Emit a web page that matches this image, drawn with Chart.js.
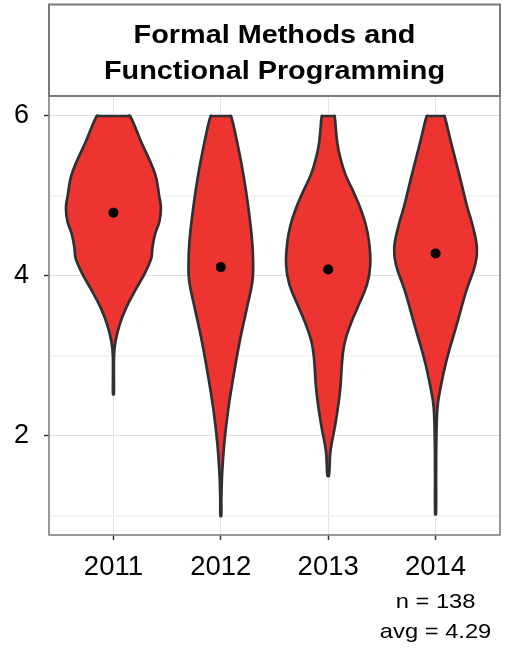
<!DOCTYPE html>
<html>
<head>
<meta charset="utf-8">
<script src="https://cdn.jsdelivr.net/npm/chart.js@4"></script>
<style>
  html, body { margin: 0; padding: 0; background: #ffffff; }
  #wrap { width: 505px; height: 652px; position: relative; }
</style>
</head>
<body>
<div id="wrap"><canvas id="c"></canvas></div>
<script>
// ---- data ----
const titleLines = ['Formal Methods and', 'Functional Programming'];
const years = ['2011', '2012', '2013', '2014'];
const yTickLabels = [2, 4, 6];

// violin outlines: rating level and half-width (share of one category slot)
const levels2011 = [6, 5.68, 5.27, 5.0, 4.85, 4.68, 4.52, 4.35, 4.22, 4.02, 3.81, 3.6, 3.39, 3.18, 3.02, 2.8, 2.52];
const widths2011 = [0.155, 0.257, 0.389, 0.426, 0.442, 0.428, 0.387, 0.363, 0.352, 0.287, 0.199, 0.118, 0.058, 0.019, 0.006, 0.004, 0.004];

const levels2012 = [6, 5.68, 5.27, 4.85, 4.43, 4.14, 3.93, 3.6, 3.18, 2.77, 2.35, 1.93, 1.52, 1.2, 1.0];
const widths2012 = [0.095, 0.151, 0.210, 0.257, 0.292, 0.301, 0.294, 0.243, 0.176, 0.121, 0.071, 0.034, 0.012, 0.005, 0.004];

const levels2013 = [6, 5.68, 5.47, 5.27, 5.06, 4.85, 4.64, 4.43, 4.14, 3.89, 3.6, 3.39, 3.18, 2.97, 2.56, 2.14, 1.81, 1.5];
const widths2013 = [0.060, 0.083, 0.114, 0.160, 0.232, 0.299, 0.350, 0.380, 0.392, 0.361, 0.272, 0.207, 0.156, 0.132, 0.110, 0.066, 0.021, 0.007];

const levels2014 = [6, 5.68, 5.27, 4.85, 4.64, 4.35, 4.14, 3.81, 3.39, 2.97, 2.56, 2.35, 1.93, 1.5, 1.02];
const widths2014 = [0.083, 0.142, 0.220, 0.297, 0.343, 0.385, 0.369, 0.285, 0.197, 0.107, 0.040, 0.017, 0.007, 0.005, 0.004];

const means = [4.79, 4.11, 4.08, 4.28];
const sampleSize = 138;
const overallAvg = '4.29';

// ---- build datasets ----
const violinLevels = [levels2011, levels2012, levels2013, levels2014];
const violinWidths = [widths2011, widths2012, widths2013, widths2014];

function violinPoints(idx) {
  const c = idx + 1;
  const lv = violinLevels[idx], wd = violinWidths[idx];
  const right = lv.map((y, k) => ({ x: c + wd[k], y: y }));
  const left = lv.map((y, k) => ({ x: c - wd[k], y: y })).reverse();
  const topInR = { x: c + wd[0] * 0.85, y: lv[0] };
  const topInL = { x: c - wd[0] * 0.85, y: lv[0] };
  return [topInR].concat(right, left, [topInL, topInR]);
}

const FILL = '#ee3431';
const EDGE = '#2e3133';

const datasets = [{
  label: 'mean',
  data: means.map((m, i) => ({ x: i + 1, y: m })),
  showLine: false,
  pointRadius: 5,
  pointHoverRadius: 5,
  pointBackgroundColor: '#000000',
  pointBorderWidth: 0,
  order: 0
}];
years.forEach((yr, i) => {
  datasets.push({
    label: yr,
    data: violinPoints(i),
    showLine: true,
    fill: 'shape',
    backgroundColor: FILL,
    borderColor: EDGE,
    borderWidth: 2.7,
    borderJoinStyle: 'round',
    tension: 0.4,
    pointRadius: 0,
    order: 1
  });
});

const FONT = "'Liberation Sans', Arial, Helvetica, sans-serif";

const frame = {
  id: 'frame',
  afterDraw(chart) {
    const { ctx, chartArea: a } = chart;
    ctx.save();
    // panel border
    ctx.strokeStyle = '#808080';
    ctx.lineWidth = 1.6;
    ctx.strokeRect(a.left, a.top, a.right - a.left, a.bottom - a.top);
    // strip box
    ctx.lineWidth = 2;
    ctx.strokeStyle = '#7a7a7a';
    ctx.strokeRect(a.left, 4.5, a.right - a.left, a.top - 4.5);
    // strip title
    const cx = (a.left + a.right) / 2;
    ctx.fillStyle = '#000000';
    ctx.font = "bold 25.5px " + FONT;
    ctx.textAlign = 'center';
    ctx.textBaseline = 'alphabetic';
    const base = [43, 79];
    titleLines.forEach((t, i) => {
      ctx.save();
      ctx.translate(cx, base[i]);
      ctx.scale(1.13, 1);
      ctx.fillText(t, 0, 0);
      ctx.restore();
    });
    // n / avg under last category
    const xs = chart.scales.x.getPixelForValue(years.length);
    ctx.font = "21px " + FONT;
    [['n = ' + sampleSize, 608], ['avg = ' + overallAvg, 638]].forEach(([t, y]) => {
      ctx.save();
      ctx.translate(xs, y);
      ctx.scale(1.13, 1);
      ctx.fillText(t, 0, 0);
      ctx.restore();
    });
    ctx.restore();
  }
};

new Chart(document.getElementById('c'), {
  type: 'scatter',
  data: { datasets },
  options: {
    responsive: true,
    maintainAspectRatio: false,
    animation: false,
    layout: { padding: { left: 0, right: 4, top: 96, bottom: 0 } },
    plugins: { legend: { display: false }, tooltip: { enabled: false } },
    scales: {
      x: {
        type: 'linear',
        min: 0.4,
        max: 4.6,
        afterBuildTicks: s => { s.ticks = years.map((_, i) => ({ value: i + 1 })); },
        afterFit: s => { s.height = 117; },
        border: { display: false },
        grid: {
          color: '#e4e4e4',
          lineWidth: 1,
          tickColor: '#333333',
          tickLength: 5,
          tickWidth: 1.5
        },
        ticks: {
          autoSkip: false,
          maxRotation: 0,
          padding: 11,
          color: '#000000',
          font: { family: FONT, size: 27.5 },
          callback: v => years[Math.round(v) - 1]
        }
      },
      y: {
        type: 'linear',
        min: 0.76,
        max: 6.25,
        afterBuildTicks: s => { s.ticks = [1, 2, 3, 4, 5, 6].map(v => ({ value: v })); },
        afterFit: s => { s.width = 49; },
        border: { display: false },
        grid: {
          color: c => (yTickLabels.includes(c.tick.value) ? '#e2e2e2' : '#f2f2f2'),
          lineWidth: c => (yTickLabels.includes(c.tick.value) ? 1 : 1.5),
          tickColor: c => (yTickLabels.includes(c.tick.value) ? '#333333' : 'rgba(0,0,0,0)'),
          tickLength: 5,
          tickWidth: 1.5
        },
        ticks: {
          padding: 15,
          color: '#000000',
          font: { family: FONT, size: 27 },
          callback: v => (yTickLabels.includes(v) ? String(v) : '')
        }
      }
    }
  },
  plugins: [frame]
});
</script>
</body>
</html>
